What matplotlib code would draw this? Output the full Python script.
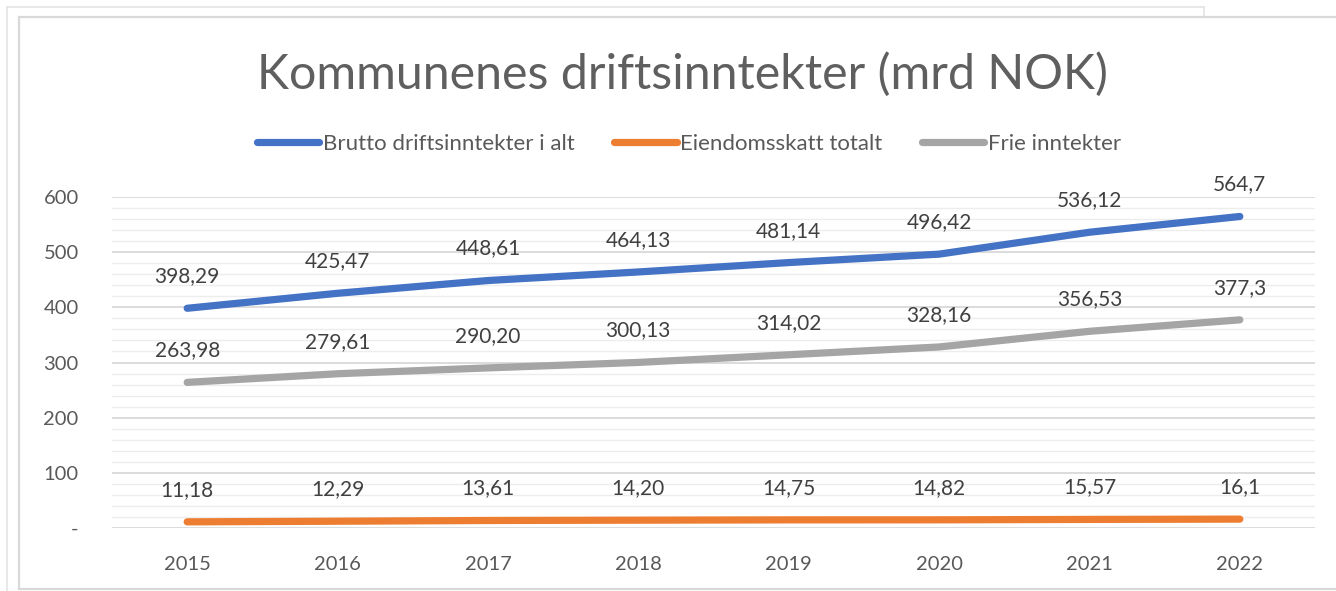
import numpy as np
import matplotlib
matplotlib.use('Agg')
import matplotlib.pyplot as plt
from matplotlib.lines import Line2D

##### DATEN #####
years = ['2015', '2016', '2017', '2018', '2019', '2020', '2021', '2022']

brutto = [398.29, 425.47, 448.61, 464.13, 481.14, 496.42, 536.12, 564.7]
eiendom = [11.18, 12.29, 13.61, 14.20, 14.75, 14.82, 15.57, 16.1]
frie = [263.98, 279.61, 290.20, 300.13, 314.02, 328.16, 356.53, 377.3]

brutto_lbl = ['398,29', '425,47', '448,61', '464,13', '481,14', '496,42', '536,12', '564,7']
eiendom_lbl = ['11,18', '12,29', '13,61', '14,20', '14,75', '14,82', '15,57', '16,1']
frie_lbl = ['263,98', '279,61', '290,20', '300,13', '314,02', '328,16', '356,53', '377,3']

series_names = ['Brutto driftsinntekter i alt', 'Eiendomsskatt totalt', 'Frie inntekter']
farben = ['#4472C4', '#ED7D31', '#A5A5A5']

yticks = [0, 100, 200, 300, 400, 500, 600]
ytick_lbl = ['-', '100', '200', '300', '400', '500', '600']

plt.rcParams['font.family'] = ['Lato', 'DejaVu Sans']
txt = '#595959'

W, H = 1336, 591
fig = plt.figure(figsize=(W / 100, H / 100), dpi=100)

# Rahmen (Excel-Diagrammbereich)
fig.add_artist(Line2D([7 / W, 1204 / W], [1 - 7 / H, 1 - 7 / H], color='#E4E4E4', lw=1.2))
fig.add_artist(Line2D([7 / W, 7 / W], [1 - 7 / H, 0], color='#E4E4E4', lw=1.2))
fig.add_artist(Line2D([1204 / W, 1204 / W], [1 - 7 / H, 1 - 17 / H], color='#E4E4E4', lw=1.2))
fig.add_artist(Line2D([19 / W, 1.0], [1 - 17 / H, 1 - 17 / H], color='#D9D9D9', lw=1.6))
fig.add_artist(Line2D([19 / W, 19 / W], [1 - 17 / H, 1 - 589 / H], color='#D9D9D9', lw=1.6))
fig.add_artist(Line2D([19 / W, 1.0], [1 - 589 / H, 1 - 589 / H], color='#D9D9D9', lw=1.6))

ax = fig.add_axes([112 / W, 1 - 528 / H, (1315 - 112) / W, (528 - 197) / H])

x = np.arange(len(years))

# Gitterlinien
for v in np.arange(0, 601, 20):
    if v % 100 == 0:
        ax.axhline(v, color='#D9D9D9', lw=1.3, zorder=1)
    else:
        ax.axhline(v, color='#EDEDED', lw=1.0, zorder=0)

for werte, lbls, f in zip([brutto, eiendom, frie], [brutto_lbl, eiendom_lbl, frie_lbl], farben):
    ax.plot(x, werte, color=f, lw=5.2, solid_capstyle='round', zorder=3)
    for xi, yi, s in zip(x, werte, lbls):
        ax.annotate(s, (xi, yi), xytext=(0, 23), textcoords='offset points',
                    ha='center', va='center', fontsize=15, color='#404040')

ax.set_xlim(-0.5, len(years) - 0.5)
ax.set_ylim(0, 600)
ax.set_xticks(x)
ax.set_xticklabels(years)
ax.set_yticks(yticks)
ax.set_yticklabels(ytick_lbl)
ax.tick_params(length=0, labelsize=14.5, labelcolor=txt)
ax.tick_params(axis='x', pad=20)
ax.tick_params(axis='y', pad=24)
for sp in ax.spines.values():
    sp.set_visible(False)

fig.text(682 / W, 1 - 74 / H, 'Kommunenes driftsinntekter (mrd NOK)', ha='center', va='center',
         fontsize=34.8, color='#5f5f5f', fontweight='normal')

handles = [Line2D([0], [0], color=f, lw=5.2, solid_capstyle='round') for f in farben]
fig.legend(handles, series_names, loc='center', bbox_to_anchor=(689 / W, 1 - 144 / H),
           ncol=3, frameon=False, fontsize=16, labelcolor=txt, handlelength=2.8,
           handletextpad=0.15, columnspacing=1.8)

plt.savefig('out.png', dpi=100)
